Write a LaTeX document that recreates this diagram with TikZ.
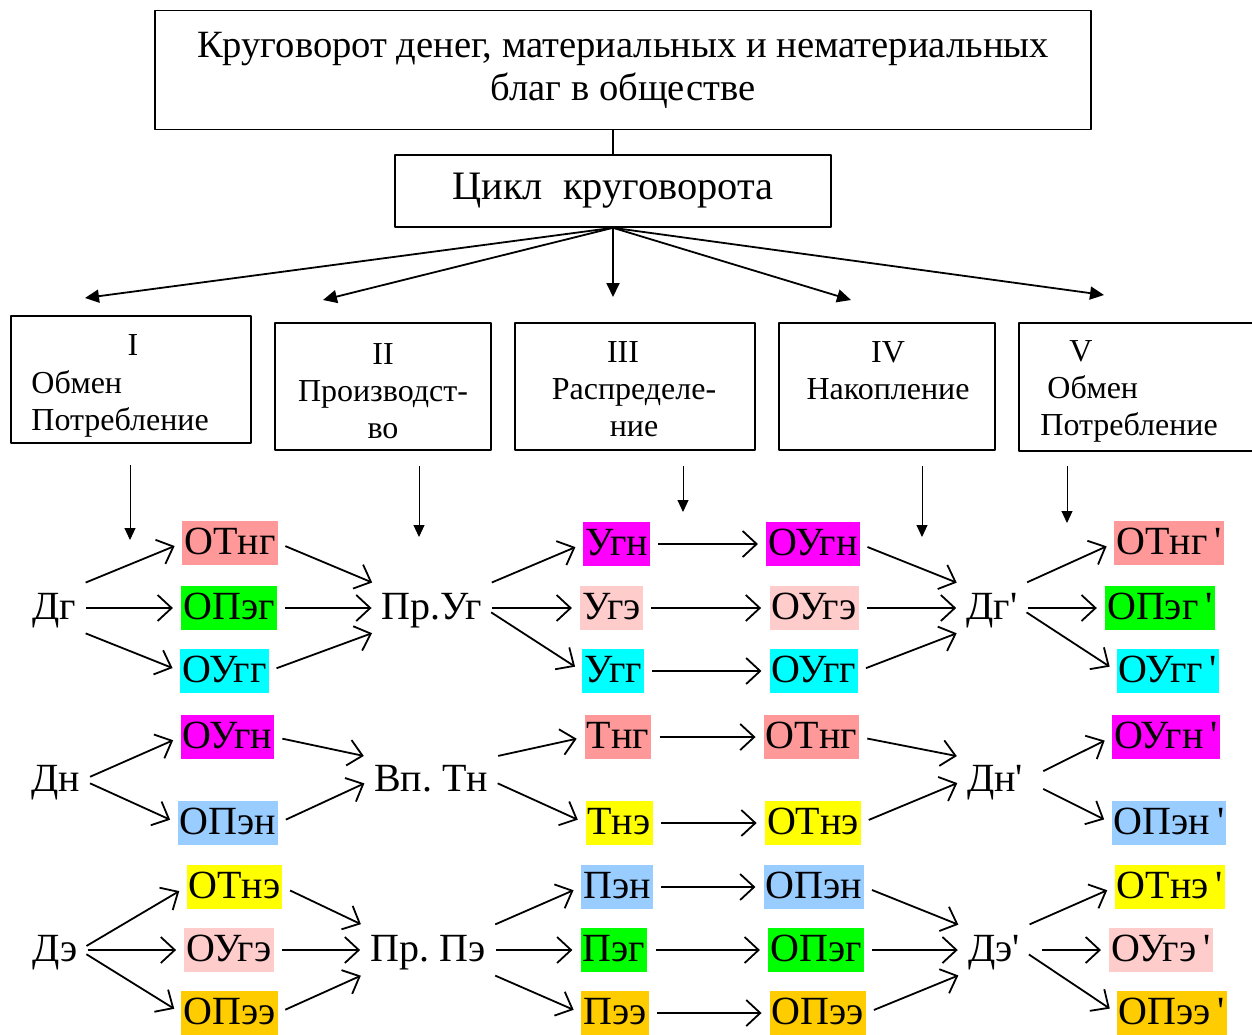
\documentclass[tikz,border=0pt]{standalone}
\usepackage{fontspec}
\setmainfont{Liberation Serif}
\usetikzlibrary{arrows.meta}
\definecolor{cSalmon}{RGB}{255,153,153}
\definecolor{cLime}{RGB}{0,255,0}
\definecolor{cAqua}{RGB}{0,255,255}
\definecolor{cMag}{RGB}{255,0,255}
\definecolor{cRose}{RGB}{255,204,204}
\definecolor{cBlue}{RGB}{153,204,255}
\definecolor{cYellow}{RGB}{255,255,0}
\definecolor{cGold}{RGB}{255,204,0}
\newcommand{\prm}{\hspace{3.5pt}\textquotesingle}
\tikzset{
  lbl/.style={inner xsep=1pt, inner ysep=0pt, text height=16.5pt, text depth=5.5pt, font=\fontsize{20}{24}\selectfont\frenchspacing},
  fld/.style={lbl, fill=#1},
  conn/.style={-{Straight Barb[length=7pt,width=13pt]}, line width=0.9pt, shorten <=4pt, shorten >=4pt},
  fanarr/.style={-{Triangle[length=7pt,width=6.5pt]}, line width=0.9pt},
  downarr/.style={-{Triangle[length=6pt,width=5.5pt]}, line width=0.5pt},
  stagebox/.style={draw, line width=0.8pt, inner sep=0pt},
  boxtxt/.style={font=\fontsize{16}{18.5}\selectfont, inner sep=0pt}
}
\begin{document}
\begin{tikzpicture}[x=0.5pt, y=-0.5pt, line join=round]
\useasboundingbox (0,0) rectangle (1252,1034);
\clip (0,0) rectangle (1252,1034);
% top part
\node[stagebox, minimum width=468pt, minimum height=59.5pt, align=center, font=\fontsize{19.3}{21.5}\selectfont] (title) at (623,70) {Круговорот денег, материальных и нематериальных\\благ в обществе};
\node[stagebox, minimum width=218pt, minimum height=36pt, font=\fontsize{20.2}{22}\selectfont] (cycle) at (613,191) {Цикл\ \ круговорота};
\draw[line width=0.6pt] (cycle.north) -- (cycle.north |- title.south);
\coordinate (f1) at (85,298); \coordinate (f2) at (323,300); \coordinate (f3) at (613,297);
\coordinate (f4) at (851,300); \coordinate (f5) at (1104,295);
\foreach \f in {f1,f2,f3,f4,f5} \draw[fanarr] (cycle.south) -- (\f);
% stages
\node[stagebox, minimum width=120pt, minimum height=63.5pt] (st1) at (131,379.5) {};
\node[stagebox, minimum width=108pt, minimum height=63.5pt] (st2) at (383,386.5) {};
\node[stagebox, minimum width=120pt, minimum height=63.5pt] (st3) at (635,386.5) {};
\node[stagebox, minimum width=108pt, minimum height=63.5pt] (st4) at (887,386.5) {};
\node[stagebox, minimum width=120pt, minimum height=64pt] (st5) at (1139,387) {};
\node[boxtxt] (t1a) at (133,345) {I};
\node[boxtxt, anchor=west, align=left] (t1b) at (31,403.5) {Обмен\\Потребление};
\node[boxtxt, align=center] (t2) at (383,391) {II\\Производст-\\во};
\node[boxtxt] (t3a) at (623,352) {III};
\node[boxtxt, align=center] (t3b) at (634,408) {Распределе-\\ние};
\node[boxtxt, align=center] (t4) at (888,371) {IV\\Накопление};
\node[boxtxt] (t5a) at (1081,351) {V};
\node[boxtxt, anchor=west, align=left] (t5b) at (1040,408.5) {\hspace*{3.5pt}Обмен\\Потребление};
\foreach \x/\ya/\yb in {130/465/540, 419/466/537, 683/466/512, 922/466/537, 1067/466/523}
  \draw[downarr] (\x,\ya) -- (\x,\yb);
% money
\node[lbl] (dgA) at (54,608) {Дг};
\node[fld=cSalmon] (otngA) at (230,543) {ОТнг};
\node[fld=cLime] (opegA) at (229,608) {ОПэг};
\node[fld=cAqua] (ouggA) at (224.5,671) {ОУгг};
\node[lbl] (prug) at (432,608) {Пр.Уг};
\node[fld=cMag] (ugn) at (616.5,544) {Угн};
\node[fld=cRose] (uge) at (611.5,608) {Угэ};
\node[fld=cAqua] (ugg) at (613,671) {Угг};
\node[fld=cMag] (ougnA) at (813,544) {ОУгн};
\node[fld=cRose] (ougeA) at (814,608) {ОУгэ};
\node[fld=cAqua] (ouggA2) at (814,671) {ОУгг};
\node[lbl] (dgp) at (992,608) {Дг\textquotesingle};
\node[fld=cSalmon] (otngp) at (1169,543) {ОТнг\prm};
\node[fld=cLime] (opegp) at (1160,608) {ОПэг\prm};
\node[fld=cAqua] (ouggp) at (1168,671) {ОУгг\prm};
% material
\node[lbl] (dn) at (56,780) {Дн};
\node[fld=cMag] (ougnB) at (227.5,737) {ОУгн};
\node[fld=cBlue] (openB) at (228,823) {ОПэн};
\node[lbl] (vptn) at (431,780) {Вп. Тн};
\node[fld=cSalmon] (tng) at (618,737) {Тнг};
\node[fld=cYellow] (tne) at (619,823) {Тнэ};
\node[fld=cSalmon] (otngB) at (811.5,737) {ОТнг};
\node[fld=cYellow] (otneB) at (813,823) {ОТнэ};
\node[lbl] (dnp) at (995,780) {Дн\textquotesingle};
\node[fld=cMag] (ougnp) at (1166,737) {ОУгн\prm};
\node[fld=cBlue] (openp) at (1169,823) {ОПэн\prm};
% non-material
\node[lbl] (de) at (55,950) {Дэ};
\node[fld=cYellow] (otneC) at (234.5,887) {ОТнэ};
\node[fld=cRose] (ougeC) at (229,950) {ОУгэ};
\node[fld=cGold] (opeeC) at (229.5,1013) {ОПээ};
\node[lbl] (prpe) at (428,950) {Пр. Пэ};
\node[fld=cBlue] (pen) at (617,887) {Пэн};
\node[fld=cLime] (peg) at (614,950) {Пэг};
\node[fld=cGold] (pee) at (615,1013) {Пээ};
\node[fld=cBlue] (openC) at (814,887) {ОПэн};
\node[fld=cLime] (opegC) at (816,950) {ОПэг};
\node[fld=cGold] (opeeC2) at (818,1013) {ОПээ};
\node[lbl] (dep) at (994,950) {Дэ\textquotesingle};
\node[fld=cYellow] (otnep) at (1170,887) {ОТнэ\prm};
\node[fld=cRose] (ougep) at (1161,950) {ОУгэ\prm};
\node[fld=cGold] (opeep) at (1172,1013) {ОПээ\prm};
% connectors
\foreach \a/\b in {dgA.north east/otngA.west, dgA.east/opegA.west, dgA.south east/ouggA.west,
  otngA.east/prug.north west, opegA.east/prug.west, ouggA.east/prug.south west,
  prug.north east/ugn.west, prug.east/uge.west, prug.east/ugg.west,
  ugn.east/ougnA.west, uge.east/ougeA.west, ugg.east/ouggA2.west,
  ougnA.east/dgp.north west, ougeA.east/dgp.west, ouggA2.east/dgp.south west,
  dgp.north east/otngp.west, dgp.east/opegp.west, dgp.east/ouggp.west}
  \draw[conn] (\a) -- (\b);
\foreach \a/\b in {dn.east/ougnB.west, dn.east/openB.west,
  ougnB.east/vptn.north west, openB.east/vptn.west,
  vptn.north east/tng.west, vptn.east/tne.west,
  tng.east/otngB.west, tne.east/otneB.west,
  otngB.east/dnp.north west, otneB.east/dnp.west}
  \draw[conn] (\a) -- (\b);
\foreach \a/\b in {dnp.east/ougnp.west, dnp.east/openp.west}
  \draw[conn, shorten <=10pt] (\a) -- (\b);
\foreach \a/\b in {de.east/otneC.west, de.east/ougeC.west, de.east/opeeC.west,
  otneC.east/prpe.north west, ougeC.east/prpe.west, opeeC.east/prpe.south west,
  prpe.north east/pen.west, prpe.east/peg.west, prpe.south east/pee.west,
  pen.east/openC.west, peg.east/opegC.west, pee.east/opeeC2.west,
  openC.east/dep.north west, opegC.east/dep.west, opeeC2.east/dep.south west,
  dep.north east/otnep.west, dep.east/opeep.west}
  \draw[conn] (\a) -- (\b);
\draw[conn, shorten <=10pt] (dep.east) -- (ougep.west);
\end{tikzpicture}
\end{document}
